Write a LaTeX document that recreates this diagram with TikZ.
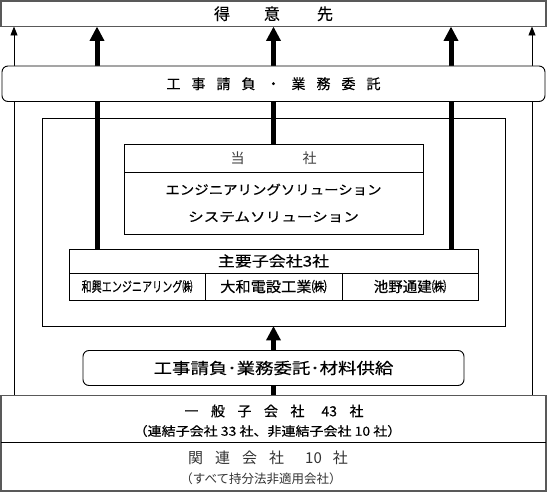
\documentclass[tikz,border=0pt]{standalone}
\usepackage{fontspec}
\usepackage{graphicx}
\usetikzlibrary{arrows.meta}
\usetikzlibrary{positioning}
\usetikzlibrary{backgrounds}
\newfontfamily\jp[FakeBold=0.3]{Noto Sans CJK JP}
\newfontfamily\jplight{Noto Sans CJK JP}

\tikzset{
  plainbox/.style={draw, line width=0.9pt, fill=white, inner sep=0pt, outer sep=0pt, font=\jp},
  roundbox/.style={plainbox, rounded corners=6pt},
  graybox/.style={plainbox, draw=black!65, line width=1.8pt},
  jptext/.style={inner sep=0pt, outer sep=0pt, font=\jp},
  thickarrow/.style={line width=5pt, -{Triangle[width=14pt,length=14.5pt]}},
  thinarrow/.style={line width=0.9pt, -{Triangle[width=7pt,length=9pt]}},
}

\begin{document}
\begin{tikzpicture}[x=1pt,y=-1pt]
\useasboundingbox (0,0) rectangle (547,494);

% columns of the arrows
\coordinate (edgeL) at (14,0);
\coordinate (colA) at (97,0);
\coordinate (colB) at (451,0);
\coordinate (edgeR) at (532,0);

% customers
\node[graybox, minimum width=545pt, minimum height=25.5pt,
      font=\jp\fontsize{16}{18}\selectfont] (client) at (273.5,13.75)
  {得\hspace{34pt}意\hspace{37pt}先};

\node[roundbox, minimum width=543pt, minimum height=35.5pt,
      font=\jp\fontsize{14}{16}\selectfont] (order1) at (273.5,83.75)
  {工\hspace{11pt}事\hspace{11pt}請\hspace{11pt}負\hspace{11pt}・\hspace{11pt}業\hspace{11pt}務\hspace{11pt}委\hspace{11pt}託};

% group frame
\node[draw, line width=0.9pt, inner sep=0pt, outer sep=0pt,
      minimum width=463pt, minimum height=208pt] (frame) at (273.5,222) {};

% company
\node[plainbox, minimum width=299pt, minimum height=28pt, text=black!75,
      font=\jplight\fontsize{14}{16}\selectfont] (mainhead) at (273.5,158)
  {当\hspace{58pt}社};
\node[plainbox, minimum width=299pt, minimum height=62pt, align=center,
      font=\jp\fontsize{13}{27}\selectfont, below=0pt of mainhead] (mainbody)
  {\scalebox{1.11}[1]{エンジニアリングソリューション}\\
   \scalebox{1.2}[1]{システムソリューション}};

% main subsidiaries
\node[plainbox, minimum width=409pt, minimum height=24pt,
      font=\jp\fontsize{14.5}{16}\selectfont] (sub3) at (273.5,261)
  {\scalebox{1.17}[1]{主要子会社3社}};
\node[plainbox, minimum width=136pt, minimum height=27pt,
      font=\jp\fontsize{14}{15}\selectfont, below right=0pt of sub3.south west] (wako)
  {\scalebox{0.72}[1]{和興エンジニアリング㈱}};
\node[plainbox, minimum width=137pt, minimum height=27pt,
      font=\jp\fontsize{14.5}{16}\selectfont, right=0pt of wako] (daiwa)
  {\scalebox{1.05}[1]{大和電設工業㈱}};
\node[plainbox, minimum width=136pt, minimum height=27pt,
      font=\jp\fontsize{14.5}{16}\selectfont, right=0pt of daiwa] (ikeno)
  {\scalebox{1.0}[1]{池野通建㈱}};

\node[roundbox, minimum width=381pt, minimum height=35pt,
      font=\jp\fontsize{15.5}{18}\selectfont] (order2) at (273.5,368)
  {\scalebox{1.19}[1]{工事請負･業務委託･材料供給}};

% general and related companies
\node[graybox, minimum width=545pt, minimum height=47pt] (gen) at (273.5,419) {};
\node[graybox, minimum width=545pt, minimum height=48.5pt, below=0pt of gen] (rel) {};
\draw[line width=0.9pt] (gen.south west) -- (gen.south east);

\node[jptext, font=\jp\fontsize{14}{16}\selectfont] (gentop) at (274,411)
  {一\hspace{12.5pt}般\hspace{12.5pt}子\hspace{12.5pt}会\hspace{12.5pt}社\hspace{17pt}43\hspace{12.5pt}社};
\node[jptext, font=\jp\fontsize{12.5}{15}\selectfont] (genbot) at (267.5,431)
  {\scalebox{1.12}[1]{（連結子会社 33 社、非連結子会社 10 社）}};
\node[jptext, text=black!80, font=\jplight\fontsize{15}{17}\selectfont] (reltop) at (268,458)
  {関\hspace{12pt}連\hspace{12pt}会\hspace{12pt}社\hspace{21pt}10\hspace{11pt}社};
\node[jptext, text=black!80, font=\jplight\fontsize{12.5}{14}\selectfont] (relbot) at (261,479)
  {\scalebox{1.0}[1]{（すべて持分法非適用会社）}};

% flows to the customers
\begin{scope}[on background layer]
\draw[thinarrow] (gen.north -| edgeL) -- (client.south -| edgeL);
\draw[thinarrow] (gen.north -| edgeR) -- (client.south -| edgeR);
\draw[thickarrow] (sub3.north -| colA) -- (client.south -| colA);
\draw[thickarrow] (mainhead.north) -- (client.south -| mainhead.north);
\draw[thickarrow] (sub3.north -| colB) -- (client.south -| colB);
\draw[thickarrow] (gen.north) -- (frame.south);
\end{scope}
\end{tikzpicture}
\end{document}
